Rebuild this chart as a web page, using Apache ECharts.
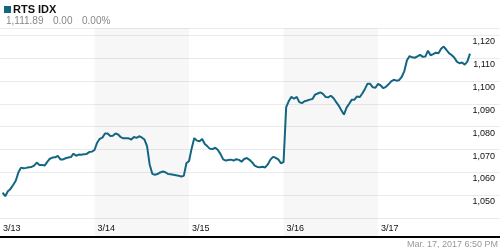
<!DOCTYPE html>
<html><head><meta charset="utf-8">
<script src="https://cdn.jsdelivr.net/npm/echarts@6/dist/echarts.min.js"></script>
<style>html,body{margin:0;padding:0;background:#fff}#c{width:500px;height:250px}</style>
</head><body><div id="c"></div>
<script>
// ---- data (RTS index, 15-min samples per trading day) ----
const dayLabels = ['3/13', '3/14', '3/15', '3/16', '3/17'];
const day1 = [null, 1051.2, 1049.6, 1051.8, 1052.8, 1054.5, 1056.4, 1060.0, 1062.1, 1061.8, 1062.0, 1062.3,
  1062.4, 1063.0, 1064.3, 1063.3, 1063.3, 1063.0, 1064.6, 1066.0, 1066.5, 1066.6, 1067.2, 1065.7,
  1065.7, 1066.2, 1066.5, 1066.7, 1068.2, 1067.3, 1067.8, 1067.7, 1068.0, 1068.1, 1068.9, 1069.1];
const day2 = [1069.8, 1073.0, 1074.7, 1075.2, 1077.0, 1077.0, 1075.9, 1076.0, 1077.0, 1076.6, 1075.4, 1074.9,
  1074.9, 1074.9, 1074.4, 1075.5, 1075.1, 1075.8, 1075.3, 1074.4, 1071.5, 1063.5, 1059.4, 1059.0,
  1059.3, 1060.0, 1060.4, 1060.1, 1059.3, 1059.2, 1059.0, 1058.8, 1058.6, 1058.2, 1058.5, 1064.0];
const day3 = [1065.0, 1070.5, 1075.0, 1073.9, 1073.6, 1074.6, 1072.4, 1071.4, 1070.3, 1070.2, 1070.8, 1069.8,
  1068.0, 1065.7, 1065.2, 1065.4, 1065.6, 1065.2, 1065.8, 1065.5, 1064.7, 1065.9, 1066.3, 1065.5,
  1064.5, 1063.0, 1062.4, 1062.3, 1062.5, 1062.2, 1063.5, 1065.6, 1066.8, 1066.4, 1065.7, 1064.0];
const day4 = [1064.5, 1088.5, 1091.2, 1093.0, 1092.2, 1093.0, 1090.7, 1090.3, 1091.1, 1091.4, 1091.8, 1092.1,
  1094.0, 1094.5, 1095.0, 1094.3, 1093.0, 1092.8, 1093.5, 1092.5, 1090.8, 1089.2, 1087.2, 1085.3,
  1088.3, 1090.0, 1091.8, 1091.8, 1093.2, 1092.9, 1094.5, 1096.5, 1098.8, 1098.7, 1097.2, 1097.0];
const day5 = [1098.7, 1098.0, 1096.8, 1097.4, 1098.5, 1099.8, 1100.5, 1100.1, 1100.3, 1101.7, 1104.3, 1109.0,
  1110.8, 1110.3, 1110.1, 1110.7, 1111.4, 1110.5, 1110.6, 1113.2, 1111.2, 1111.7, 1112.3, 1112.1,
  1114.0, 1115.0, 1113.6, 1112.1, 1111.3, 1110.2, 1108.4, 1107.7, 1108.0, 1107.1, 1108.4, 1111.9];
const days = [day1, day2, day3, day4, day5];
const shadedDays = [1, 3];           // 3/14 and 3/16
const yLabelFrom = 1050;             // lowest labelled tick
const headerName = 'RTS IDX';
const headerLast = '1,111.89';
const headerChange = '0.00';
const headerPct = '0.00%';
const timestamp = 'Mar. 17, 2017 6:50 PM';
const yMin = 1031.8, yMax = 1123.1;  // visible value range
const xMax = 5.29;                   // days shown (incl. right margin for labels)

// ---- build ----
const lineData = [];
days.forEach((arr, d) => arr.forEach((v, i) => {
  if (v !== null) lineData.push([d + i / arr.length, v]);
}));
const fmt = v => v < yLabelFrom ? '' : String(Math.round(v)).replace(/\B(?=(\d{3})+(?!\d))/g, ',');
const teal = '#136682';
const FONT = '"Liberation Sans", Arial, sans-serif';

const chart = echarts.init(document.getElementById('c'), null, {renderer: 'canvas'});
chart.setOption({
  animation: false,
  grid: {left: 0, right: 0, top: 28, bottom: 13},
  xAxis: {
    type: 'value', min: 0, max: xMax, interval: 1,
    axisLine: {onZero: false, lineStyle: {color: '#000', width: 2}},
    axisTick: {show: false},
    splitLine: {show: false},
    axisLabel: {
      inside: true, margin: 4, align: 'left', padding: [0, 0, 0, 3],
      fontSize: 9, fontFamily: FONT, color: '#111',
      showMaxLabel: false,
      formatter: v => (Number.isInteger(v) && v < dayLabels.length) ? dayLabels[v] : ''
    }
  },
  yAxis: {
    type: 'value', position: 'right', min: yMin, max: yMax, splitNumber: 9,
    axisLine: {show: false}, axisTick: {show: false},
    splitLine: {lineStyle: {color: '#ebebeb', width: 1}},
    axisLabel: {
      inside: true, margin: 5, verticalAlign: 'top', padding: [2, 0, 0, 0],
      fontSize: 9, fontFamily: FONT, color: '#111',
      showMinLabel: false, showMaxLabel: false,
      formatter: fmt
    }
  },
  series: [{
    type: 'line', data: lineData, showSymbol: false, silent: true,
    lineStyle: {color: teal, width: 2}, z: 3,
    markArea: {
      silent: true,
      itemStyle: {color: 'rgba(0,0,0,0.03)'},
      data: shadedDays.map(d => [{xAxis: d}, {xAxis: d + 1}])
    }
  }],
  graphic: [
    {type: 'rect', shape: {x: 4, y: 6, width: 7, height: 7}, style: {fill: teal}},
    {type: 'text', style: {text: headerName, x: 13, y: 9.5, font: 'bold 11px ' + FONT, fill: '#111',
      textVerticalAlign: 'middle', verticalAlign: 'middle'}},
    {type: 'text', style: {text: headerLast, x: 6, y: 21.5, font: '10px ' + FONT, fill: '#888',
      textVerticalAlign: 'middle', verticalAlign: 'middle'}},
    {type: 'text', style: {text: headerChange, x: 53, y: 21.5, font: '10px ' + FONT, fill: '#888',
      textVerticalAlign: 'middle', verticalAlign: 'middle'}},
    {type: 'text', style: {text: headerPct, x: 82, y: 21.5, font: '10px ' + FONT, fill: '#888',
      textVerticalAlign: 'middle', verticalAlign: 'middle'}},
    {type: 'text', style: {text: timestamp, x: 498, y: 244.5, font: '9px ' + FONT, fill: '#999',
      textAlign: 'right', align: 'right', textVerticalAlign: 'middle', verticalAlign: 'middle'}}
  ]
});
</script></body></html>
